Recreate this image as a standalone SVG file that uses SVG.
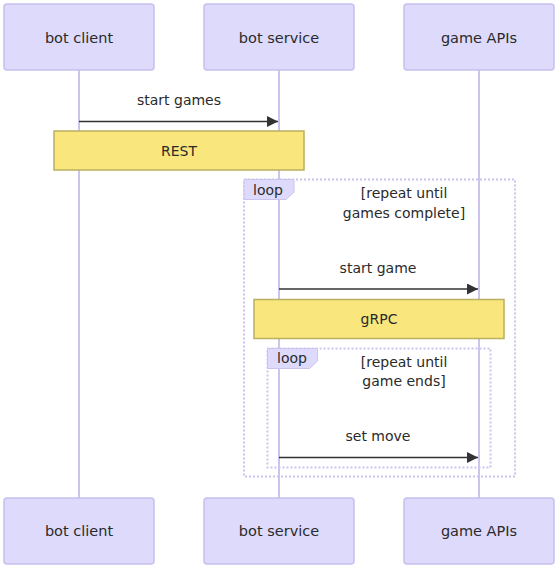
<svg xmlns="http://www.w3.org/2000/svg" width="559" height="567" viewBox="0 0 559 567">
<defs>
<style>
.actor{fill:#dddafc;stroke:#c6c0ee;stroke-width:1.5}
.atext{font-family:"DejaVu Sans",sans-serif;font-size:14.5px;fill:#2a2a2a;text-anchor:middle;dominant-baseline:central}
.life{stroke:#cac4ee;stroke-width:2}
.msg{stroke:#333;stroke-width:1.5;fill:none}
.mtext{font-family:"DejaVu Sans",sans-serif;font-size:14px;fill:#2a2a2a;text-anchor:middle;dominant-baseline:central}
.note{fill:#f9e77e;stroke:#b9b061;stroke-width:1.5}
.loop{fill:none;stroke:#c9c3ee;stroke-width:2;stroke-dasharray:2 2}
.lbox{fill:#dddafc;stroke:#c9c3ee;stroke-width:1}
</style>
<marker id="arrow" viewBox="0 0 11 11" refX="11" refY="5.5" markerWidth="11" markerHeight="11" markerUnits="userSpaceOnUse" orient="auto">
<path d="M0,0 L11,5.5 L0,11 z" fill="#333"/>
</marker>
</defs>
<rect width="559" height="567" fill="#ffffff"/>
<g id="lifelines">
<line class="life" x1="79" y1="70" x2="79" y2="498"/>
<line class="life" x1="279" y1="70" x2="279" y2="498"/>
<line class="life" x1="479" y1="70" x2="479" y2="498"/>
</g>
<g id="actor-bot-client-top"><rect class="actor" x="4" y="4" width="150" height="66" rx="3"/><text class="atext" x="79" y="38">bot client</text></g>
<g id="actor-bot-service-top"><rect class="actor" x="204" y="4" width="150" height="66" rx="3"/><text class="atext" x="279" y="38">bot service</text></g>
<g id="actor-game-apis-top"><rect class="actor" x="404" y="4" width="150" height="66" rx="3"/><text class="atext" x="479" y="38">game APIs</text></g>
<g id="note-rest"><rect class="note" x="54" y="131" width="250" height="39"/><text class="mtext" x="179" y="151">REST</text></g>
<g id="loop-outer">
<rect class="loop" x="244" y="179.5" width="271" height="297"/>
<polygon class="lbox" points="244,179.5 294,179.5 294,192 286,199.5 244,199.5"/>
<text class="mtext" x="268" y="190">loop</text>
<text class="mtext" x="404" y="193">[repeat until</text>
<text class="mtext" x="404" y="213">games complete]</text>
</g>
<g id="note-grpc"><rect class="note" x="254" y="299.5" width="250" height="39"/><text class="mtext" x="379" y="319">gRPC</text></g>
<g id="loop-inner">
<rect class="loop" x="267.5" y="348.5" width="223" height="119"/>
<polygon class="lbox" points="267.5,348.5 317.5,348.5 317.5,361 309.5,368.5 267.5,368.5"/>
<text class="mtext" x="292" y="358">loop</text>
<text class="mtext" x="404" y="362">[repeat until</text>
<text class="mtext" x="404" y="381">game ends]</text>
</g>
<g id="connectors">
<line class="msg" x1="79" y1="121.5" x2="278" y2="121.5" marker-end="url(#arrow)"/>
<text class="mtext" x="179" y="100">start games</text>
<line class="msg" x1="279" y1="289" x2="478" y2="289" marker-end="url(#arrow)"/>
<text class="mtext" x="378" y="268">start game</text>
<line class="msg" x1="279" y1="457.5" x2="478" y2="457.5" marker-end="url(#arrow)"/>
<text class="mtext" x="378" y="436">set move</text>
</g>
<g id="actor-bot-client-bottom"><rect class="actor" x="4" y="498" width="150" height="66" rx="3"/><text class="atext" x="79" y="531">bot client</text></g>
<g id="actor-bot-service-bottom"><rect class="actor" x="204" y="498" width="150" height="66" rx="3"/><text class="atext" x="279" y="531">bot service</text></g>
<g id="actor-game-apis-bottom"><rect class="actor" x="404" y="498" width="150" height="66" rx="3"/><text class="atext" x="479" y="531">game APIs</text></g>
</svg>
